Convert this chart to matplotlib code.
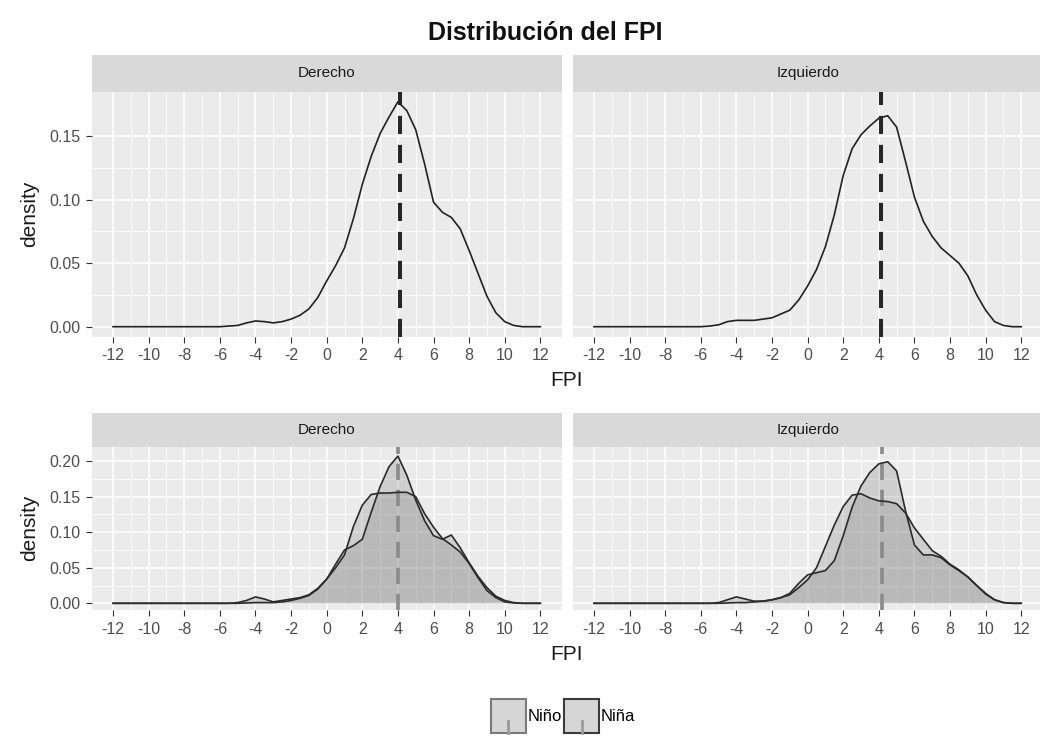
import matplotlib
matplotlib.use('Agg')
import matplotlib.pyplot as plt
from matplotlib.patches import Patch, Rectangle
from matplotlib.lines import Line2D
from matplotlib.legend_handler import HandlerBase
import numpy as np

plt.rcParams['font.family'] = ['Liberation Sans', 'DejaVu Sans']

# FPI grid the densities were read on
fpi = np.linspace(-12, 12, 49)
zeros_tail = [0.0] * 13

# top row: all children, by foot
der_all = zeros_tail + [0.0005, 0.001, 0.003, 0.0045, 0.004, 0.003, 0.004, 0.006, 0.009, 0.014, 0.023, 0.036,
                        0.048, 0.062, 0.085, 0.112, 0.134, 0.152, 0.165, 0.177, 0.170, 0.155, 0.128, 0.098,
                        0.090, 0.086, 0.077, 0.060, 0.042, 0.024, 0.011, 0.004, 0.001, 0.0, 0.0, 0.0]
izq_all = zeros_tail + [0.0005, 0.0015, 0.004, 0.005, 0.005, 0.005, 0.006, 0.007, 0.010, 0.013, 0.021, 0.032,
                        0.045, 0.063, 0.088, 0.119, 0.140, 0.151, 0.158, 0.164, 0.166, 0.157, 0.130, 0.102,
                        0.083, 0.071, 0.062, 0.056, 0.050, 0.040, 0.025, 0.013, 0.004, 0.001, 0.0, 0.0]

# bottom row: by sex
der_nino = zeros_tail + [0.0, 0.0, 0.0005, 0.001, 0.001, 0.001, 0.002, 0.004, 0.007, 0.011, 0.020, 0.034,
                         0.055, 0.075, 0.081, 0.090, 0.128, 0.164, 0.192, 0.207, 0.180, 0.145, 0.116, 0.095,
                         0.090, 0.096, 0.078, 0.057, 0.038, 0.022, 0.010, 0.004, 0.001, 0.0, 0.0, 0.0]
der_nina = zeros_tail + [0.0, 0.001, 0.004, 0.009, 0.006, 0.002, 0.004, 0.006, 0.008, 0.012, 0.021, 0.034,
                         0.050, 0.068, 0.108, 0.138, 0.153, 0.155, 0.155, 0.156, 0.156, 0.150, 0.126, 0.107,
                         0.091, 0.082, 0.072, 0.056, 0.036, 0.018, 0.008, 0.002, 0.0005, 0.0, 0.0, 0.0]
izq_nino = zeros_tail + [0.0, 0.0, 0.0005, 0.001, 0.001, 0.002, 0.003, 0.005, 0.008, 0.014, 0.028, 0.040,
                         0.043, 0.046, 0.060, 0.095, 0.135, 0.165, 0.184, 0.196, 0.199, 0.186, 0.130, 0.082,
                         0.068, 0.068, 0.064, 0.054, 0.046, 0.037, 0.025, 0.013, 0.005, 0.001, 0.0, 0.0]
izq_nina = zeros_tail + [0.0, 0.001, 0.005, 0.009, 0.006, 0.003, 0.003, 0.005, 0.008, 0.012, 0.022, 0.033,
                         0.050, 0.080, 0.110, 0.136, 0.152, 0.154, 0.148, 0.144, 0.143, 0.140, 0.127, 0.106,
                         0.090, 0.074, 0.066, 0.055, 0.047, 0.037, 0.025, 0.014, 0.005, 0.001, 0.0, 0.0]

# means (dashed lines)
mean_top = {'Derecho': 4.1, 'Izquierdo': 4.15}
mean_bottom = {'Derecho': 4.0, 'Izquierdo': 4.2}

panels = ['Derecho', 'Izquierdo']
sexes = ['Niño', 'Niña']
x_ticks = list(range(-12, 13, 2))

W, H = 1040, 751
fig = plt.figure(figsize=(W / 100, H / 100), dpi=100)


def rect(l, r, t, b):
    return [l / W, 1 - b / H, (r - l) / W, (b - t) / H]


def style_panel(ax, ylim, yticks):
    ax.set_facecolor('#EBEBEB')
    for s in ax.spines.values():
        s.set_visible(False)
    ax.set_xlim(-13.2, 13.2)
    ax.set_ylim(*ylim)
    ax.set_xticks(x_ticks)
    ax.set_xticklabels([str(t) for t in x_ticks])
    ax.set_xticks(np.arange(-11, 12, 2), minor=True)
    ax.set_yticks(yticks)
    ax.set_yticks(np.array(yticks[:-1]) + 0.025, minor=True)
    ax.grid(which='major', color='white', lw=1.1)
    ax.grid(which='minor', color='white', lw=0.55)
    ax.set_axisbelow(True)
    ax.tick_params(which='major', length=4, width=0.8, color='#333333', labelsize=11.5,
                   labelcolor='#4D4D4D', pad=4)
    ax.tick_params(which='minor', length=0)


def strip(l, r, t, b, label):
    sa = fig.add_axes(rect(l, r, t, b))
    sa.set_facecolor('#D9D9D9')
    sa.set_xticks([])
    sa.set_yticks([])
    for s in sa.spines.values():
        s.set_visible(False)
    sa.text(0.5, 0.5, label, ha='center', va='center', fontsize=11, color='#1A1A1A',
            transform=sa.transAxes)


lefts = [91.7, 572.6]
width = 470

# top row
top_data = {'Derecho': der_all, 'Izquierdo': izq_all}
for i, p in enumerate(panels):
    l = lefts[i]
    ax = fig.add_axes(rect(l, l + width, 91.7, 336.7))
    style_panel(ax, (-0.00786, 0.1849), [0.0, 0.05, 0.10, 0.15])
    ax.plot(fpi, top_data[p], color='#222222', lw=1.2)
    ax.axvline(mean_top[p], color='#262626', lw=2.9, dashes=(4.5, 2.7))
    if i == 0:
        ax.set_yticklabels(['0.00', '0.05', '0.10', '0.15'])
    else:
        ax.set_yticklabels([])
        ax.tick_params(axis='y', length=0)
    strip(l, l + width, 55, 91.7, p)

# bottom row
bottom_data = {'Derecho': [der_nino, der_nina], 'Izquierdo': [izq_nino, izq_nina]}
for i, p in enumerate(panels):
    l = lefts[i]
    ax = fig.add_axes(rect(l, l + width, 446.7, 610.4))
    style_panel(ax, (-0.00998, 0.2201), [0.0, 0.05, 0.10, 0.15, 0.20])
    for dens in bottom_data[p]:
        ax.fill_between(fpi, dens, 0, facecolor='#7d7d7d', alpha=0.26, lw=0)
    ax.axvline(mean_bottom[p], color='#8a8a8a', lw=2.6, dashes=(4.5, 2.7))
    for dens in bottom_data[p]:
        ax.plot(fpi, dens, color='#2b2b2b', lw=1.2)
    if i == 0:
        ax.set_yticklabels(['0.00', '0.05', '0.10', '0.15', '0.20'])
    else:
        ax.set_yticklabels([])
        ax.tick_params(axis='y', length=0)
    strip(l, l + width, 412.7, 446.7, p)

# axis titles
for yc in [214, 528]:
    fig.text(30 / W, 1 - yc / H, 'density', rotation=90, ha='center', va='center',
             fontsize=15, color='#1A1A1A')
for yc in [381, 654]:
    fig.text(567 / W, 1 - yc / H, 'FPI', ha='center', va='center', fontsize=15, color='#1A1A1A')

fig.text(545 / W, 1 - 33 / H, 'Distribución del FPI', ha='center', va='center',
         fontsize=18, fontweight='bold', color='#111111')


class KeyHandler(HandlerBase):
    def create_artists(self, legend, orig_handle, xdescent, ydescent, width, height, fontsize, trans):
        box = Rectangle((-xdescent, -ydescent), width, height, facecolor='#d6d6d6',
                        edgecolor=orig_handle.get_edgecolor(), lw=1.5, transform=trans)
        vl = Line2D([-xdescent + width / 2] * 2, [-ydescent, -ydescent + height * 0.35],
                    color='#9a9a9a', lw=2, transform=trans)
        return [box, vl]


handles = [Patch(facecolor='#d6d6d6', edgecolor='#7a7a7a'),
           Patch(facecolor='#d6d6d6', edgecolor='#3a3a3a')]
fig.legend(handles, sexes, handler_map={Patch: KeyHandler()}, loc='center',
           bbox_to_anchor=(563 / W, 1 - 716 / H), ncol=2, frameon=False, fontsize=12,
           handlelength=2.1, handleheight=2.85, handletextpad=0.1, columnspacing=0.15,
           borderpad=0)

fig.savefig('out.png', dpi=100, facecolor='white')
